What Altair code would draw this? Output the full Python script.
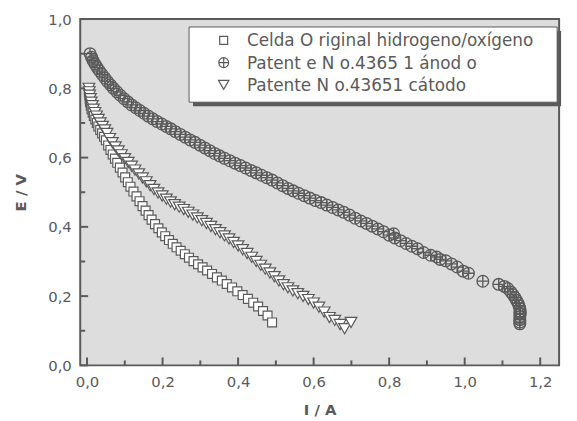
import altair as alt
import pandas as pd

series_names = [
    "Celda O riginal hidrogeno/oxígeno",
    "Patent e N o.4365 1 ánod o",
    "Patente N o.43651 cátodo",
]

# Celda original (squares)
sq_x = [0.005, 0.005, 0.006, 0.007, 0.008, 0.010, 0.012, 0.015, 0.018, 0.022,
        0.026, 0.030, 0.035, 0.040, 0.045, 0.050, 0.056, 0.062, 0.068, 0.074,
        0.080, 0.087, 0.094, 0.101, 0.108, 0.115, 0.123, 0.131, 0.139, 0.147,
        0.155, 0.163, 0.171, 0.180, 0.189, 0.198, 0.207, 0.217, 0.227, 0.237,
        0.248, 0.259, 0.270, 0.282, 0.294, 0.306, 0.318, 0.331, 0.344, 0.357,
        0.370, 0.384, 0.398, 0.412, 0.426, 0.440, 0.453, 0.466, 0.478, 0.490]
sq_y = [0.800, 0.790, 0.780, 0.770, 0.760, 0.750, 0.740, 0.730, 0.720, 0.710,
        0.700, 0.690, 0.680, 0.670, 0.660, 0.650, 0.635, 0.622, 0.609, 0.597,
        0.585, 0.571, 0.557, 0.543, 0.529, 0.516, 0.502, 0.488, 0.474, 0.460,
        0.447, 0.434, 0.421, 0.408, 0.396, 0.384, 0.373, 0.362, 0.351, 0.341,
        0.331, 0.321, 0.311, 0.301, 0.292, 0.283, 0.274, 0.264, 0.254, 0.245,
        0.235, 0.225, 0.214, 0.203, 0.192, 0.181, 0.170, 0.157, 0.144, 0.124]

# Patente cátodo (triangles)
ca_x = [0.005, 0.006, 0.007, 0.009, 0.011, 0.014, 0.017, 0.021, 0.025, 0.030,
        0.035, 0.041, 0.047, 0.053, 0.060, 0.067, 0.075, 0.083, 0.091, 0.100,
        0.109, 0.118, 0.127, 0.137, 0.147, 0.157, 0.167, 0.177, 0.188, 0.199,
        0.210, 0.221, 0.232, 0.244, 0.256, 0.268, 0.280, 0.292, 0.304, 0.316,
        0.328, 0.340, 0.352, 0.364, 0.376, 0.388, 0.400, 0.412, 0.424, 0.436,
        0.448, 0.460, 0.472, 0.484, 0.496, 0.508, 0.520, 0.532, 0.545, 0.558,
        0.572, 0.586, 0.600, 0.614, 0.628, 0.642, 0.656, 0.670, 0.682, 0.699]
ca_y = [0.800, 0.790, 0.780, 0.770, 0.760, 0.750, 0.740, 0.730, 0.720, 0.710,
        0.700, 0.690, 0.680, 0.670, 0.655, 0.643, 0.631, 0.619, 0.608, 0.597,
        0.586, 0.575, 0.564, 0.553, 0.541, 0.530, 0.519, 0.508, 0.498, 0.489,
        0.480, 0.472, 0.464, 0.457, 0.450, 0.442, 0.434, 0.426, 0.418, 0.410,
        0.401, 0.392, 0.383, 0.374, 0.365, 0.355, 0.345, 0.334, 0.323, 0.312,
        0.300, 0.289, 0.278, 0.267, 0.256, 0.244, 0.233, 0.224, 0.215, 0.207,
        0.199, 0.190, 0.180, 0.168, 0.154, 0.138, 0.130, 0.118, 0.106, 0.124]

# Patente ánodo (crossed circles)
an_x = [0.008, 0.012, 0.016, 0.021, 0.027, 0.033, 0.040, 0.047, 0.054, 0.062,
        0.070, 0.079, 0.088, 0.098, 0.108, 0.118, 0.129, 0.140, 0.151, 0.162,
        0.174, 0.186, 0.198, 0.210, 0.222, 0.234, 0.247, 0.260, 0.273, 0.286,
        0.299, 0.312, 0.325, 0.338, 0.351, 0.364, 0.378, 0.392, 0.406, 0.420,
        0.434, 0.448, 0.462, 0.476, 0.490, 0.504, 0.518, 0.532, 0.546, 0.560,
        0.575, 0.590, 0.605, 0.620, 0.635, 0.650, 0.665, 0.680, 0.695, 0.710,
        0.725, 0.740, 0.755, 0.770, 0.785, 0.800, 0.815, 0.812, 0.830, 0.845,
        0.860, 0.875, 0.891, 0.910, 0.926, 0.935, 0.950, 0.965, 0.980, 0.996,
        1.010, 1.048, 1.090, 1.105, 1.114, 1.122, 1.128, 1.133, 1.137, 1.141,
        1.144, 1.146, 1.147, 1.147, 1.146, 1.146, 1.146, 1.146, 1.146]
an_y = [0.900, 0.890, 0.880, 0.870, 0.860, 0.850, 0.840, 0.830, 0.820, 0.810,
        0.800, 0.790, 0.780, 0.770, 0.761, 0.752, 0.744, 0.736, 0.728, 0.720,
        0.712, 0.704, 0.697, 0.690, 0.683, 0.675, 0.667, 0.659, 0.651, 0.644,
        0.636, 0.628, 0.620, 0.612, 0.605, 0.598, 0.591, 0.584, 0.577, 0.570,
        0.563, 0.556, 0.549, 0.542, 0.535, 0.527, 0.519, 0.511, 0.504, 0.497,
        0.490, 0.483, 0.476, 0.470, 0.463, 0.456, 0.449, 0.442, 0.434, 0.425,
        0.417, 0.410, 0.402, 0.394, 0.386, 0.376, 0.368, 0.380, 0.360, 0.352,
        0.344, 0.337, 0.326, 0.318, 0.313, 0.306, 0.302, 0.293, 0.284, 0.272,
        0.266, 0.243, 0.234, 0.228, 0.222, 0.212, 0.204, 0.196, 0.188, 0.180,
        0.172, 0.164, 0.156, 0.148, 0.140, 0.132, 0.125, 0.120, 0.150]

x_major = [0.0, 0.2, 0.4, 0.6, 0.8, 1.0, 1.2]
x_minor = [0.1, 0.3, 0.5, 0.7, 0.9, 1.1]
y_major = [0.0, 0.2, 0.4, 0.6, 0.8, 1.0]
y_minor = [0.1, 0.3, 0.5, 0.7, 0.9]

W, H = 484, 350
GREY = "#5a5a5a"
FONT = "DejaVu Sans"
circle_cross = "M-1,0A1,1,0,1,1,1,0A1,1,0,1,1,-1,0ZM-1,0L1,0M0,-1L0,1"
shapes = {series_names[0]: "square", series_names[1]: circle_cross,
          series_names[2]: "triangle-down"}

xscale = alt.Scale(domain=[-0.018, 1.25], nice=False, zero=False)
yscale = alt.Scale(domain=[0.0, 1.0], nice=False, zero=False)
lab = "replace(format(datum.value, '.1f'), '.', ',')"

xaxis = alt.Axis(values=x_major, labelExpr=lab, tickSize=0, domain=False, grid=False,
                 labelPadding=9, titlePadding=14)
yaxis = alt.Axis(values=y_major, labelExpr=lab, tickSize=0, domain=False, grid=False,
                 labelPadding=9, titlePadding=19)


def series_layer(name, xs, ys, fill, size, sw):
    d = pd.DataFrame({"I": xs, "E": ys})
    return alt.Chart(d).mark_point(filled=True, shape=shapes[name], fill=fill, stroke=GREY,
                                   strokeWidth=sw, opacity=1, size=size).encode(
        x=alt.X("I:Q", scale=xscale, axis=xaxis, title="I / A"),
        y=alt.Y("E:Q", scale=yscale, axis=yaxis, title="E / V"),
    )


one = pd.DataFrame({"k": [0]})
shadow = alt.Chart(one).mark_rect(fill=GREY).encode(
    x=alt.value(114), x2=alt.value(486), y=alt.value(12), y2=alt.value(88))
box = alt.Chart(one).mark_rect(fill="white", stroke=GREY, strokeWidth=1).encode(
    x=alt.value(110), x2=alt.value(482), y=alt.value(8), y2=alt.value(84))

legend_layers = []
legend_sizes = [64, 100, 110]
for i, name in enumerate(series_names):
    ypix = 21.5 + 22.5 * i
    legend_layers.append(
        alt.Chart(one).mark_point(filled=True, shape=shapes[name], fill="white", stroke=GREY,
                                  strokeWidth=1.2, opacity=1, size=legend_sizes[i]).encode(
            x=alt.value(145), y=alt.value(ypix)))
    legend_layers.append(
        alt.Chart(one).mark_text(align="left", baseline="middle", font=FONT, fontSize=17,
                                 color=GREY).encode(
            x=alt.value(168.5), y=alt.value(ypix + 1), text=alt.value(name)))


def xticks(vals, length):
    return alt.Chart(pd.DataFrame({"t": vals})).mark_rule(color=GREY, strokeWidth=2).encode(
        x=alt.X("t:Q", scale=xscale, title="I / A"),
        y=alt.value(H), y2=alt.value(H - length))


def yticks(vals, length):
    return alt.Chart(pd.DataFrame({"t": vals})).mark_rule(color=GREY, strokeWidth=2).encode(
        y=alt.Y("t:Q", scale=yscale, title="E / V"),
        x=alt.value(0), x2=alt.value(length))


chart = alt.layer(
    xticks(x_major, 8), xticks(x_minor, 5), yticks(y_major, 8), yticks(y_minor, 5),
    series_layer(series_names[0], sq_x, sq_y, "white", 81, 1.2),
    series_layer(series_names[2], ca_x, ca_y, "white", 140, 1.2),
    series_layer(series_names[1], an_x, an_y, "transparent", 140, 1.3),
    shadow, box, *legend_layers,
).properties(
    width=W, height=H,
    autosize=alt.AutoSizeParams(type="none"),
    padding={"left": 73, "top": 9, "right": 10, "bottom": 52},
).configure_view(
    fill="#dddddd", stroke=GREY, strokeWidth=2
).configure_axis(
    labelFont=FONT, labelFontSize=15, labelColor=GREY,
    titleFont=FONT, titleFontSize=15, titleFontWeight="bold", titleColor=GREY,
)

chart.save("out.html", embed_options={"renderer": "svg", "actions": False})
